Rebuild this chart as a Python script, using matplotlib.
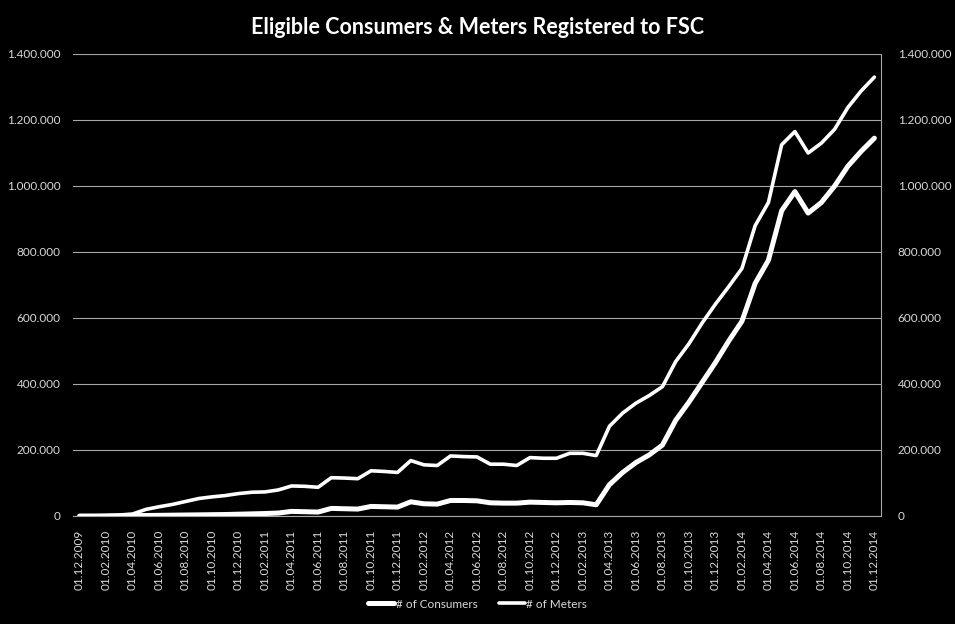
import matplotlib
matplotlib.use("Agg")
import matplotlib.pyplot as plt
from matplotlib.ticker import FuncFormatter, MultipleLocator

months = []
for y in range(2009, 2015):
    for m in range(1, 13):
        if (y == 2009 and m < 12):
            continue
        months.append(f"01.{m:02d}.{y}")
months = months[:61]

meters = [0, 500, 1500, 3000, 6000, 20000, 28000, 35000, 44000, 53000,
          58000, 62000, 68000, 72000, 73000, 79000, 91000, 90000, 87000, 116000,
          115000, 113000, 137000, 135000, 132000, 168000, 155000, 153000, 182000, 180000,
          179000, 157000, 157000, 153000, 177000, 175000, 175000, 190000, 190000, 183000,
          272000, 312000, 342000, 365000, 392000, 468000, 522000, 585000, 642000, 695000,
          750000, 880000, 950000, 1125000, 1165000, 1100000, 1130000, 1172000, 1238000, 1288000,
          1330000]
consumers = [0, 0, 0, 500, 1000, 1500, 2000, 2500, 3000, 3500,
             4000, 4500, 5500, 6500, 7500, 9000, 14000, 13000, 12000, 23000,
             22000, 21000, 29000, 28000, 27000, 43000, 37000, 36000, 47000, 47000,
             46000, 40000, 39000, 39000, 42000, 41000, 40000, 41000, 40000, 34000,
             95000, 132000, 162000, 185000, 215000, 290000, 345000, 405000, 465000, 530000,
             590000, 705000, 775000, 925000, 983000, 918000, 950000, 1000000, 1060000, 1105000,
             1145000]

title = "Eligible Consumers & Meters Registered to FSC"
series_names = ["# of Consumers", "# of Meters"]

FONT = ["Lato", "DejaVu Sans"]
plt.rcParams['font.family'] = FONT
TXT = "#d9d9d9"
GRID = "#a6a6a6"

fig = plt.figure(figsize=(9.55, 6.24), dpi=100, facecolor="black")
ax = fig.add_axes([73/955, 1-516/624, (881-73)/955, (516-54)/624])
ax.set_facecolor("black")
x = list(range(len(months)))

l1, = ax.plot(x, consumers, color="white", lw=3.6, solid_joinstyle="round", solid_capstyle="round", zorder=3)
l2, = ax.plot(x, meters, color="white", lw=2.6, solid_joinstyle="round", solid_capstyle="round", zorder=3)

ax.set_xlim(-0.5, len(months) - 0.5)
ax.set_ylim(0, 1400000)
ax.yaxis.set_major_locator(MultipleLocator(200000))
fmt = FuncFormatter(lambda v, p: f"{int(v):,}".replace(",", "."))
ax.yaxis.set_major_formatter(fmt)
ax.grid(axis="y", color=GRID, lw=0.8)
ax.set_axisbelow(True)
ax.set_xticks(x[::2])
ax.set_xticklabels(months[::2], rotation=90, color=TXT, fontsize=8.5)
ax.tick_params(axis="both", length=0, colors=TXT, labelsize=8.5)
ax.tick_params(axis="y", pad=9)
ax.tick_params(axis="x", pad=10)
for s in ["top", "left", "right"]:
    ax.spines[s].set_visible(False)
ax.spines["bottom"].set_color(GRID)

ax2 = ax.twinx()
ax2.set_ylim(0, 1400000)
ax2.yaxis.set_major_locator(MultipleLocator(200000))
ax2.yaxis.set_major_formatter(fmt)
ax2.tick_params(axis="y", length=0, colors=TXT, labelsize=8.5, pad=12)
for s in ["top", "left", "bottom"]:
    ax2.spines[s].set_visible(False)
ax2.spines["right"].set_color(GRID)

fig.text(0.5, 1-27/624, title, ha="center", va="center", color="white",
         fontsize=15.5, fontweight="bold")

leg = fig.legend([l1, l2], series_names, loc="center", bbox_to_anchor=(0.5, 1-604/624),
                 ncol=2, frameon=False, fontsize=8.5, handlelength=2.2, handletextpad=0.1,
                 columnspacing=1.8)
for t in leg.get_texts():
    t.set_color(TXT)

fig.savefig("out.png", dpi=100, facecolor="black")
